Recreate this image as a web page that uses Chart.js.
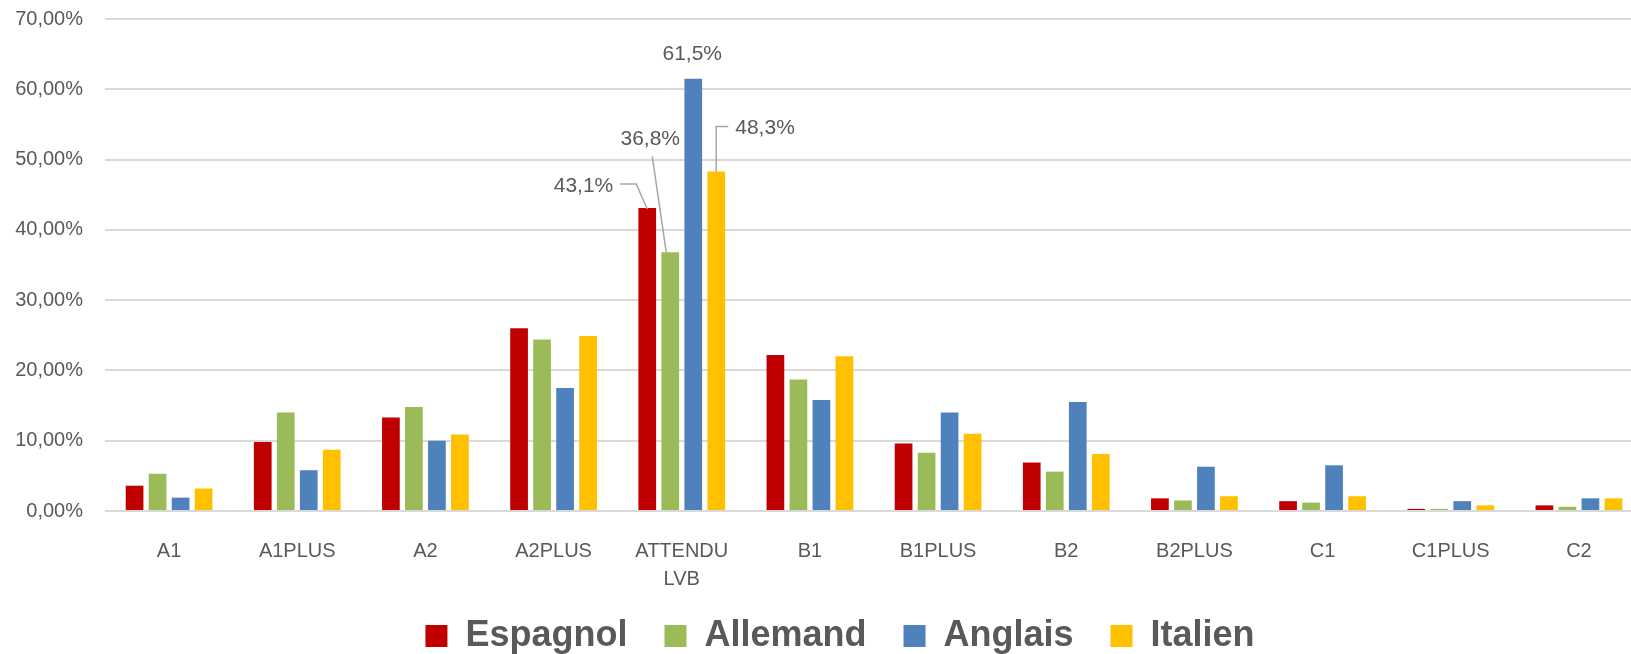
<!DOCTYPE html>
<html>
<head>
<meta charset="utf-8">
<script src="https://cdn.jsdelivr.net/npm/chart.js@4/dist/chart.umd.min.js"></script>
<style>
  html, body { margin: 0; padding: 0; background: #ffffff; overflow: hidden; width: 1631px; height: 654px; }
  #wrap { position: absolute; left: 0; top: 0; width: 1680px; height: 664px; }
  canvas { display: block; }
</style>
</head>
<body>
<div id="wrap"><canvas id="c" width="1680" height="664" style="width:1680px;height:664px"></canvas></div>
<script>
// ---- data ----
const categories = ['A1', 'A1PLUS', 'A2', 'A2PLUS', ['ATTENDU', 'LVB'], 'B1', 'B1PLUS', 'B2', 'B2PLUS', 'C1', 'C1PLUS', 'C2'];
const seriesNames = ['Espagnol', 'Allemand', 'Anglais', 'Italien'];
const espagnol = [3.6, 9.8, 13.3, 26.0, 43.1, 22.2, 9.6, 6.9, 1.8, 1.4, 0.3, 0.8];
const allemand = [5.3, 14.0, 14.8, 24.4, 36.8, 18.7, 8.3, 5.6, 1.5, 1.2, 0.3, 0.6];
const anglais  = [1.9, 5.8, 10.0, 17.5, 61.5, 15.8, 14.0, 15.5, 6.3, 6.5, 1.4, 1.8];
const italien  = [3.2, 8.7, 10.9, 24.9, 48.3, 22.0, 11.0, 8.1, 2.1, 2.1, 0.8, 1.8];
const yTickLabels = ['0,00%', '10,00%', '20,00%', '30,00%', '40,00%', '50,00%', '60,00%', '70,00%'];
const labelledCategory = 4; // ATTENDU LVB
const labelTexts = ['43,1%', '36,8%', '61,5%', '48,3%'];

// ---- styles ----
const colors = ['#C00000', '#9BBB59', '#4F81BD', '#FFC000'];
const textColor = '#595959';
const gridColor = '#d9d9d9';
Chart.defaults.font.family = "'Liberation Sans', Arial, sans-serif";
Chart.defaults.color = textColor;

const seriesValues = [espagnol, allemand, anglais, italien];

// callout labels for the ATTENDU LVB group (offsets relative to each bar top)
const calloutPlugin = {
  id: 'callouts',
  afterDatasetsDraw(chart) {
    const ctx = chart.ctx;
    ctx.save();
    ctx.font = "21px 'Liberation Sans', Arial, sans-serif";
    ctx.fillStyle = textColor;
    ctx.strokeStyle = '#a6a6a6';
    ctx.lineWidth = 1.5;
    ctx.textBaseline = 'middle';
    for (let i = 0; i < seriesValues.length; i++) {
      const el = chart.getDatasetMeta(i).data[labelledCategory];
      if (!el) continue;
      const x = el.x, y = el.y;
      const t = labelTexts[i];
      if (i === 0) {
        ctx.beginPath();
        ctx.moveTo(x, y + 1); ctx.lineTo(x - 11, y - 24); ctx.lineTo(x - 27, y - 24);
        ctx.stroke();
        ctx.textAlign = 'right';
        ctx.fillText(t, x - 34, y - 22);
      } else if (i === 1) {
        ctx.beginPath();
        ctx.moveTo(x - 4, y); ctx.lineTo(x - 18, y - 96);
        ctx.stroke();
        ctx.textAlign = 'center';
        ctx.fillText(t, x - 20, y - 113);
      } else if (i === 2) {
        ctx.textAlign = 'center';
        ctx.fillText(t, x - 1, y - 25);
      } else {
        ctx.beginPath();
        ctx.moveTo(x, y); ctx.lineTo(x, y - 45); ctx.lineTo(x + 12, y - 45);
        ctx.stroke();
        ctx.textAlign = 'left';
        ctx.fillText(t, x + 19, y - 43);
      }
    }
    ctx.restore();
  }
};

new Chart(document.getElementById('c'), {
  type: 'bar',
  data: {
    labels: categories,
    datasets: seriesNames.map((n, i) => ({
      label: n,
      data: seriesValues[i],
      backgroundColor: colors[i],
      borderWidth: 0,
      categoryPercentage: 0.718,
      barPercentage: 0.77
    }))
  },
  options: {
    responsive: false,
    maintainAspectRatio: false,
    animation: false,
    devicePixelRatio: 1,
    layout: { padding: { top: 19, left: 0, right: 0, bottom: 0 } },
    scales: {
      x: {
        offset: true,
        grid: { display: false, drawTicks: false },
        border: { display: false },
        ticks: { font: { size: 20, lineHeight: 1.4 }, color: textColor, padding: 26, maxRotation: 0, autoSkip: false },
        afterFit(s) { s.height = 80; }
      },
      y: {
        min: 0, max: 70,
        grid: { color: gridColor, lineWidth: 2, drawTicks: false },
        border: { display: false },
        ticks: {
          stepSize: 10, padding: 22, color: textColor, font: { size: 20 },
          callback: (v) => yTickLabels[Math.round(v / 10)]
        },
        afterFit(s) { s.width = 105; s.paddingTop = 12; s.paddingBottom = 12; }
      },
      yR: {
        position: 'right',
        display: true,
        grid: { display: false, drawTicks: false },
        border: { display: false },
        ticks: { display: false },
        afterFit(s) { s.width = 37; s.paddingTop = 0; s.paddingBottom = 0; }
      }
    },
    plugins: {
      legend: {
        position: 'bottom',
        labels: {
          boxWidth: 22, boxHeight: 22, padding: 27,
          color: textColor,
          font: { size: 36, weight: 'bold' },
          generateLabels(chart) {
            const items = Chart.defaults.plugins.legend.labels.generateLabels(chart);
            // trailing space widens the gap between legend entries
            return items.map((it, i) => Object.assign(it, { text: i < items.length - 1 ? it.text + ' ' : it.text }));
          }
        }
      },
      tooltip: { enabled: false }
    }
  },
  plugins: [calloutPlugin]
});
</script>
</body>
</html>
